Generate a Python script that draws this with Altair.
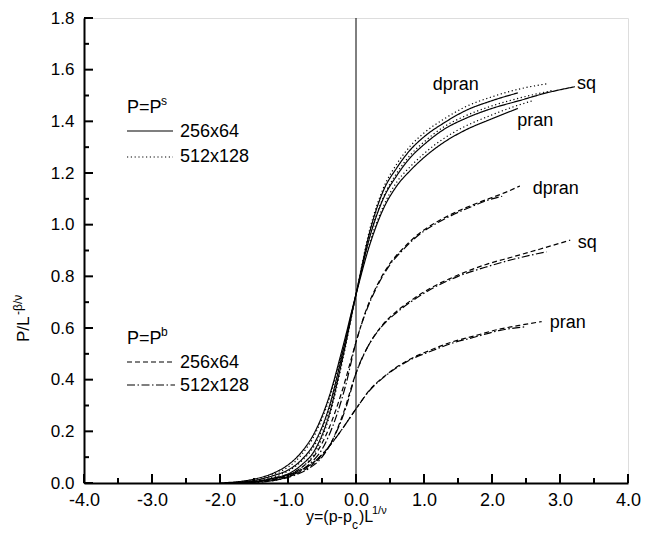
import altair as alt
import pandas as pd

# ---------------- data ----------------
# P = P^s, 256x64 (solid)
ps256_dpran_x = [-1.9, -1.5, -1.2, -1.0, -0.8, -0.6, -0.4, -0.2, 0.0, 0.2, 0.4, 0.6, 0.8, 1.0, 1.3, 1.6, 2.0, 2.38]
ps256_dpran_y = [0.0, 0.005, 0.02, 0.035, 0.07, 0.13, 0.26, 0.48, 0.73, 0.97, 1.13, 1.22, 1.29, 1.34, 1.395, 1.44, 1.48, 1.51]
ps256_sq_x = [-1.9, -1.5, -1.2, -1.0, -0.8, -0.6, -0.4, -0.2, 0.0, 0.2, 0.4, 0.6, 0.8, 1.0, 1.3, 1.6, 2.0, 2.4, 2.8, 3.22]
ps256_sq_y = [0.0, 0.01, 0.03, 0.05, 0.09, 0.16, 0.29, 0.5, 0.73, 0.95, 1.10, 1.19, 1.26, 1.31, 1.37, 1.41, 1.45, 1.48, 1.51, 1.534]
ps256_pran_x = [-2.0, -1.5, -1.2, -1.0, -0.8, -0.6, -0.4, -0.2, 0.0, 0.2, 0.4, 0.6, 0.8, 1.0, 1.3, 1.6, 2.0, 2.38]
ps256_pran_y = [0.0, 0.015, 0.04, 0.07, 0.12, 0.2, 0.33, 0.52, 0.73, 0.92, 1.06, 1.15, 1.21, 1.26, 1.32, 1.365, 1.41, 1.45]

# P = P^s, 512x128 (dotted)
ps512_dpran_x = [-1.8, -1.2, -0.8, -0.6, -0.4, -0.2, 0.0, 0.2, 0.4, 0.6, 0.8, 1.0, 1.3, 1.6, 2.0, 2.4, 2.8]
ps512_dpran_y = [0.0, 0.015, 0.06, 0.12, 0.25, 0.47, 0.73, 0.98, 1.14, 1.235, 1.305, 1.355, 1.41, 1.455, 1.495, 1.525, 1.545]
ps512_sq_x = [-1.8, -1.2, -0.8, -0.6, -0.4, -0.2, 0.0, 0.2, 0.4, 0.6, 0.8, 1.0, 1.3, 1.6, 2.0, 2.4, 2.9]
ps512_sq_y = [0.0, 0.025, 0.085, 0.15, 0.28, 0.49, 0.73, 0.955, 1.105, 1.20, 1.27, 1.32, 1.38, 1.42, 1.46, 1.49, 1.52]
ps512_pran_x = [-1.9, -1.2, -0.8, -0.6, -0.4, -0.2, 0.0, 0.2, 0.4, 0.6, 0.8, 1.0, 1.3, 1.6, 2.0, 2.3, 2.6]
ps512_pran_y = [0.0, 0.035, 0.11, 0.19, 0.32, 0.51, 0.73, 0.93, 1.07, 1.165, 1.225, 1.275, 1.335, 1.38, 1.425, 1.455, 1.48]

# P = P^b, 256x64 (dashed)
pb256_dpran_x = [-1.7, -1.3, -1.0, -0.8, -0.6, -0.4, -0.2, 0.0, 0.15, 0.3, 0.5, 0.7, 0.9, 1.15, 1.4, 1.7, 2.0, 2.2, 2.41]
pb256_dpran_y = [0.0, 0.01, 0.03, 0.06, 0.11, 0.21, 0.36, 0.545, 0.67, 0.76, 0.85, 0.91, 0.96, 1.005, 1.04, 1.075, 1.105, 1.125, 1.15]
pb256_sq_x = [-1.8, -1.3, -1.0, -0.8, -0.6, -0.4, -0.2, 0.0, 0.2, 0.4, 0.6, 0.8, 1.1, 1.5, 1.9, 2.3, 2.7, 3.15]
pb256_sq_y = [0.0, 0.01, 0.025, 0.045, 0.08, 0.14, 0.26, 0.425, 0.54, 0.615, 0.665, 0.705, 0.755, 0.805, 0.845, 0.875, 0.905, 0.94]
pb256_pran_x = [-1.9, -1.4, -1.1, -0.82, -0.6, -0.4, -0.2, 0.0, 0.2, 0.45, 0.8, 1.1, 1.4, 1.75, 2.1, 2.4, 2.73]
pb256_pran_y = [0.0, 0.01, 0.025, 0.05, 0.085, 0.14, 0.21, 0.287, 0.36, 0.42, 0.48, 0.515, 0.545, 0.57, 0.595, 0.61, 0.625]

# P = P^b, 512x128 (dash-dot)
pb512_dpran_x = [-1.6, -1.2, -0.9, -0.7, -0.5, -0.3, -0.15, 0.0, 0.15, 0.3, 0.5, 0.7, 0.9, 1.15, 1.4, 1.7, 2.0, 2.15]
pb512_dpran_y = [0.0, 0.01, 0.035, 0.07, 0.13, 0.25, 0.38, 0.545, 0.665, 0.755, 0.845, 0.905, 0.955, 1.0, 1.035, 1.07, 1.1, 1.11]
pb512_sq_x = [-1.7, -1.2, -0.9, -0.7, -0.5, -0.3, -0.15, 0.0, 0.2, 0.4, 0.6, 0.8, 1.1, 1.5, 1.9, 2.3, 2.8]
pb512_sq_y = [0.0, 0.01, 0.03, 0.055, 0.1, 0.19, 0.29, 0.425, 0.54, 0.612, 0.66, 0.70, 0.75, 0.80, 0.835, 0.865, 0.895]
pb512_pran_x = [-1.8, -1.3, -1.0, -0.8, -0.6, -0.4, -0.2, 0.0, 0.2, 0.45, 0.8, 1.1, 1.4, 1.75, 2.1, 2.5]
pb512_pran_y = [0.0, 0.012, 0.03, 0.05, 0.085, 0.14, 0.21, 0.287, 0.358, 0.418, 0.477, 0.51, 0.54, 0.565, 0.59, 0.605]

# curve annotations
label_text = ["dpran", "sq", "pran", "dpran", "sq", "pran"]
label_x = [1.13, 3.25, 2.37, 2.60, 3.26, 2.85]
label_y = [1.54, 1.545, 1.40, 1.14, 0.93, 0.62]

x_major = [-4, -3, -2, -1, 0, 1, 2, 3, 4]
x_minor = [-3.5, -2.5, -1.5, -0.5, 0.5, 1.5, 2.5, 3.5]
y_major = [0.0, 0.2, 0.4, 0.6, 0.8, 1.0, 1.2, 1.4, 1.6, 1.8]
y_minor = [0.1, 0.3, 0.5, 0.7, 0.9, 1.1, 1.3, 1.5, 1.7]

# ---------------- build table ----------------
curves = [
    ("ps256_dpran", "solid", ps256_dpran_x, ps256_dpran_y),
    ("ps256_sq", "solid", ps256_sq_x, ps256_sq_y),
    ("ps256_pran", "solid", ps256_pran_x, ps256_pran_y),
    ("ps512_dpran", "dotted", ps512_dpran_x, ps512_dpran_y),
    ("ps512_sq", "dotted", ps512_sq_x, ps512_sq_y),
    ("ps512_pran", "dotted", ps512_pran_x, ps512_pran_y),
    ("pb256_dpran", "dashed", pb256_dpran_x, pb256_dpran_y),
    ("pb256_sq", "dashed", pb256_sq_x, pb256_sq_y),
    ("pb256_pran", "dashed", pb256_pran_x, pb256_pran_y),
    ("pb512_dpran", "dashdot", pb512_dpran_x, pb512_dpran_y),
    ("pb512_sq", "dashdot", pb512_sq_x, pb512_sq_y),
    ("pb512_pran", "dashdot", pb512_pran_x, pb512_pran_y),
]
rows = []
for name, style, xs, ys in curves:
    for i, (xv, yv) in enumerate(zip(xs, ys)):
        rows.append({"curve": name, "style": style, "x": xv, "y": yv, "o": i})
df = pd.DataFrame(rows)

W, H = 544, 465
FONT = "Liberation Sans"
xscale = alt.Scale(domain=[-4, 4], nice=False, zero=False)
yscale = alt.Scale(domain=[0, 1.8], nice=False, zero=False)
LBL = "replace(format(datum.value, '.1f'), '\u2212', '-')"

dash_scale = alt.Scale(
    domain=["solid", "dotted", "dashed", "dashdot"],
    range=[[1, 0], [1.2, 2.6], [5, 3], [8, 2.5, 1.5, 2.5]],
)

lines = alt.Chart(df).mark_line(color="black", strokeWidth=1.2, interpolate="monotone").encode(
    x=alt.X("x:Q", scale=xscale,
            axis=alt.Axis(values=x_major, labelExpr=LBL, ticks=False, grid=False, title=None,
                          labelFontSize=18, labelFont=FONT, labelColor="black", labelPadding=8,
                          domainColor="black", domainWidth=2, labelFlush=False)),
    y=alt.Y("y:Q", scale=yscale,
            axis=alt.Axis(values=y_major, labelExpr=LBL, ticks=False, grid=False, title=None,
                          labelFontSize=17, labelFont=FONT, labelColor="black", labelPadding=10,
                          domainColor="black", domainWidth=2, labelFlush=False)),
    strokeDash=alt.StrokeDash("style:N", scale=dash_scale, legend=None),
    detail="curve:N",
    order="o:Q",
)

# x = 0 vertical line
zero_df = pd.DataFrame({"x": [0.0]})
zero_line = alt.Chart(zero_df).mark_rule(color="black", strokeWidth=1).encode(
    x=alt.X("x:Q", scale=xscale), y=alt.value(0), y2=alt.value(H))

# inward ticks
xmaj = alt.Chart(pd.DataFrame({"t": x_major})).mark_rule(color="black", strokeWidth=2).encode(
    x=alt.X("t:Q", scale=xscale), y=alt.value(H), y2=alt.value(H - 9))
xmin = alt.Chart(pd.DataFrame({"t": x_minor})).mark_rule(color="black", strokeWidth=2).encode(
    x=alt.X("t:Q", scale=xscale), y=alt.value(H), y2=alt.value(H - 5))
ymaj = alt.Chart(pd.DataFrame({"t": y_major})).mark_rule(color="black", strokeWidth=2).encode(
    y=alt.Y("t:Q", scale=yscale), x=alt.value(0), x2=alt.value(9))
ymin = alt.Chart(pd.DataFrame({"t": y_minor})).mark_rule(color="black", strokeWidth=2).encode(
    y=alt.Y("t:Q", scale=yscale), x=alt.value(0), x2=alt.value(5))

# curve labels
lab_df = pd.DataFrame({"label": label_text, "x": label_x, "y": label_y})
labels = alt.Chart(lab_df).mark_text(align="left", baseline="middle", fontSize=18, font=FONT,
                                     color="black").encode(
    x=alt.X("x:Q", scale=xscale), y=alt.Y("y:Q", scale=yscale), text="label:N")

one = pd.DataFrame({"a": [0]})


def txt(s, px, py, size=18, align="left", baseline="alphabetic", angle=0):
    kw = dict(align=align, baseline=baseline, fontSize=size, font=FONT, color="black", text=s)
    if angle:
        kw["angle"] = angle
    return alt.Chart(one).mark_text(**kw).encode(x=alt.value(px), y=alt.value(py))


def seg(px1, px2, py, dash):
    m = alt.Chart(one).mark_rule(color="black", strokeWidth=1.2, strokeDash=dash)
    return m.encode(x=alt.value(px1), x2=alt.value(px2), y=alt.value(py))


legend = [
    txt("P=P", 43, 95), txt("s", 77, 87, size=12),
    seg(43, 89, 113, [1, 0]), txt("256x64", 96, 114, baseline="middle"),
    seg(43, 89, 139, [1.2, 2.6]), txt("512x128", 96, 139, baseline="middle"),
    txt("P=P", 43, 326), txt("b", 77, 318, size=12),
    seg(43, 91, 344, [5, 3]), txt("256x64", 96, 345, baseline="middle"),
    seg(43, 91, 367, [8, 2.5, 1.5, 2.5]), txt("512x128", 96, 368, baseline="middle"),
]

# axis titles
titles = [
    txt("y=(p-p", 222, 504, size=16),
    txt("c", 268, 511, size=12),
    txt(")L", 275, 504, size=16),
    txt("1/ν", 288, 496, size=11),
    txt("P/L", -55, 324, size=17, angle=270),
    txt("-β/ν", -62, 297, size=12, angle=270),
]

chart = alt.layer(lines, zero_line, xmaj, xmin, ymaj, ymin, labels, *legend, *titles).properties(
    width=W, height=H,
    autosize=alt.AutoSizeParams(type="none"),
    padding={"left": 76, "top": 10, "right": 31, "bottom": 68},
).configure_view(stroke="black", strokeWidth=2).configure(font=FONT)

chart.save("out.html", embed_options={"renderer": "svg", "actions": False})
